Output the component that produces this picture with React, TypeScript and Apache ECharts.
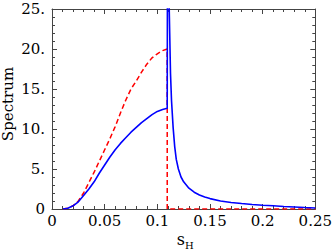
import React, { useEffect, useRef } from "react";
import * as echarts from "echarts";

// Solid blue curve
const blueX = [0.0105, 0.015, 0.02, 0.025, 0.03, 0.035, 0.04, 0.045, 0.05, 0.055, 0.06, 0.065, 0.07, 0.075, 0.08, 0.085, 0.09, 0.095, 0.1, 0.105, 0.1094,
  0.11, 0.1113, 0.1125, 0.1135, 0.115, 0.1165, 0.118, 0.12, 0.1225, 0.125, 0.13, 0.135, 0.14, 0.145, 0.15, 0.16, 0.17, 0.18, 0.19, 0.2, 0.21, 0.22, 0.23, 0.24, 0.25];
const blueY = [0, 0.1, 0.4, 0.9, 1.7, 2.5, 3.4, 4.5, 5.5, 6.5, 7.4, 8.2, 8.9, 9.6, 10.2, 10.8, 11.3, 11.8, 12.2, 12.45, 12.6,
  60, 25, 17, 13.5, 10.2, 7.8, 6.2, 5.0, 4.0, 3.4, 2.6, 2.1, 1.75, 1.5, 1.3, 1.0, 0.82, 0.68, 0.57, 0.47, 0.4, 0.32, 0.25, 0.18, 0.12];

// Dashed red curve
const redX = [0.0105, 0.015, 0.02, 0.025, 0.03, 0.035, 0.04, 0.045, 0.05, 0.055, 0.06, 0.065, 0.07, 0.075, 0.08, 0.085, 0.09, 0.095, 0.1, 0.105, 0.1094, 0.1094, 0.25];
const redY = [0, 0.1, 0.4, 1.0, 2.0, 3.3, 4.6, 6.0, 7.4, 8.8, 10.3, 12.0, 13.6, 15.0, 16.0, 17.1, 18.1, 18.9, 19.4, 19.8, 20.0, 0, 0];

// Axis ticks
const xTicks = [0, 0.05, 0.1, 0.15, 0.2, 0.25];
const yTicks = [0, 5, 10, 15, 20, 25];
const xTitle = "s";
const xSub = "H";
const yTitle = "Spectrum";

const FONT = "DejaVu Serif";
const FRAME = "#444";

export default function App() {
  const ref = useRef<HTMLDivElement>(null);
  useEffect(() => {
    if (!ref.current) return;
    const chart = echarts.init(ref.current, undefined, { renderer: "svg" });
    const frameAxis = (labels: boolean, isX: boolean) => ({
      type: "value" as const,
      min: isX ? xTicks[0] : yTicks[0],
      max: isX ? xTicks[xTicks.length - 1] : yTicks[yTicks.length - 1],
      interval: isX ? 0.05 : 5,
      axisLine: { show: true, onZero: false, lineStyle: { color: FRAME, width: 1 } },
      axisTick: { show: true, inside: true, length: 5, lineStyle: { color: FRAME } },
      minorTick: { show: true, splitNumber: 5, length: 3, lineStyle: { color: FRAME } },
      splitLine: { show: false },
      minorSplitLine: { show: false },
      axisLabel: labels
        ? {
            show: true,
            color: "#000",
            fontFamily: FONT,
            fontSize: 15,
            margin: isX ? 4 : 7,
            formatter: (v: number) => {
              if (v === 0) return "0";
              if (isX) return String(Math.round(v * 100) / 100);
              return String(Math.round(v)) + ".";
            },
          }
        : { show: false },
    });
    chart.setOption({
      animation: false,
      grid: { left: 52, right: 15, top: 9, bottom: 42, containLabel: false },
      xAxis: [
        { ...frameAxis(true, true), position: "bottom" },
        { ...frameAxis(false, true), position: "top" },
      ],
      yAxis: [
        { ...frameAxis(true, false), position: "left" },
        { ...frameAxis(false, false), position: "right" },
      ],
      series: [
        {
          type: "line",
          xAxisIndex: 0,
          yAxisIndex: 0,
          data: redX.map((x, i) => [x, redY[i]]),
          showSymbol: false,
          clip: true,
          lineStyle: { color: "#ff0000", width: 1.5, type: [5, 3] },
          z: 3,
        },
        {
          type: "line",
          xAxisIndex: 0,
          yAxisIndex: 0,
          data: blueX.map((x, i) => [x, blueY[i]]),
          showSymbol: false,
          clip: true,
          lineStyle: { color: "#0000ff", width: 1.6 },
          z: 4,
        },
      ],
      graphic: [
        {
          type: "text",
          x: 8,
          y: 104,
          rotation: Math.PI / 2,
          style: { text: yTitle, font: `15px ${FONT}`, fill: "#000", textAlign: "center", textVerticalAlign: "middle" },
        },
        {
          type: "text",
          x: 185,
          y: 239,
          style: { text: xTitle, font: `16px ${FONT}`, fill: "#000", textAlign: "right", textVerticalAlign: "middle" },
        },
        {
          type: "text",
          x: 185,
          y: 245,
          style: { text: xSub, font: `10px ${FONT}`, fill: "#000", textAlign: "left", textVerticalAlign: "middle" },
        },
      ],
    });
    return () => chart.dispose();
  }, []);
  return <div ref={ref} style={{ width: 335, height: 251, position: "absolute", left: 0, top: 0 }} />;
}
